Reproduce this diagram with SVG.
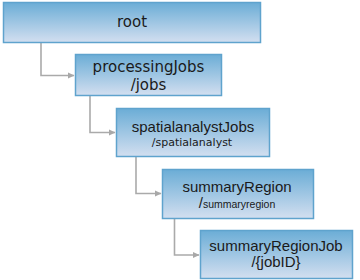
<svg xmlns="http://www.w3.org/2000/svg" width="360" height="280" viewBox="0 0 360 280">
<defs>
<linearGradient id="g" x1="0" y1="0" x2="0" y2="1">
<stop offset="0" stop-color="#6badd6"/>
<stop offset="1" stop-color="#d3dff0"/>
</linearGradient>
<marker id="arr" markerWidth="7" markerHeight="7" refX="6" refY="3.5" orient="auto" markerUnits="userSpaceOnUse">
<path d="M0,0.5 L6.5,3.5 L0,6.5 Z" fill="#a8a8a8"/>
</marker>
<style>
.box{fill:url(#g);stroke:#5fa3cd;stroke-width:1.5}
.v{font-family:"DejaVu Sans",Verdana,sans-serif;fill:#1a1a1a;text-anchor:middle}
.a{font-family:"Liberation Sans",Arial,sans-serif;fill:#1a1a1a;text-anchor:middle}
.c{fill:none;stroke:#aaaaaa;stroke-width:1.6}
</style>
</defs>
<rect width="360" height="280" fill="#ffffff"/>
<g id="connectors">
<path class="c" d="M41 42 V75.5 H74" marker-end="url(#arr)"/>
<path class="c" d="M90 95 V132.5 H115" marker-end="url(#arr)"/>
<path class="c" d="M136 157 V193.5 H161" marker-end="url(#arr)"/>
<path class="c" d="M174.5 219 V255 H199" marker-end="url(#arr)"/>
</g>
<g id="root">
<rect class="box" x="3.5" y="2.5" width="257" height="40"/>
<text class="v" x="132" y="27" font-size="15">root</text>
</g>
<g id="processingJobs">
<rect class="box" x="75.5" y="54.5" width="146" height="41"/>
<text class="v" x="148.5" y="72" font-size="15">processingJobs</text>
<text class="v" x="148.5" y="89.5" font-size="15">/jobs</text>
</g>
<g id="spatialanalystJobs">
<rect class="box" x="116.5" y="108.5" width="153" height="48"/>
<text class="a" x="193" y="131.5" font-size="15">spatialanalystJobs</text>
<text class="v" x="192" y="145.5" font-size="11">/spatialanalyst</text>
</g>
<g id="summaryRegion">
<rect class="box" x="162.5" y="169.5" width="151" height="49"/>
<text class="a" x="237" y="191.5" font-size="15">summaryRegion</text>
<text class="a" x="237" y="207.5"><tspan font-size="15">/</tspan><tspan font-size="10.5">summaryregion</tspan></text>
</g>
<g id="summaryRegionJob">
<rect class="box" x="200.5" y="230.5" width="152" height="48"/>
<text class="a" x="276" y="251" font-size="15">summaryRegionJob</text>
<text class="a" x="276" y="267" font-size="15">/{jobID}</text>
</g>
</svg>
